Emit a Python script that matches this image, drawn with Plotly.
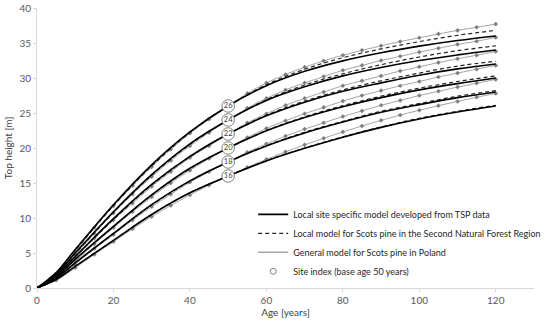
import plotly.graph_objects as go

# ---------------- data ----------------
site_index = [26, 24, 22, 20, 18, 16]
base_age = [50, 50, 50, 50, 50, 50]

ages_model = [0, 5, 10, 20, 30, 40, 50, 60, 70, 80, 90, 100, 110, 120]
ages_general = [0, 5, 10, 15, 20, 25, 30, 35, 40, 45, 50, 55, 60,
                65, 70, 75, 80, 85, 90, 95, 100, 105, 110, 115, 120]

# Local site specific model developed from TSP data (solid black)
tsp_26 = [0, 2.2, 5.5, 11.9, 17.6, 22.3, 26.0, 28.9, 30.95, 32.45, 33.6, 34.55, 35.35, 36.0]
tsp_24 = [0, 2.0, 5.0, 10.9, 16.2, 20.6, 24.0, 26.8, 28.75, 30.3, 31.5, 32.5, 33.3, 34.0]
tsp_22 = [0, 1.8, 4.5, 9.9, 14.8, 18.8, 22.0, 24.6, 26.55, 28.1, 29.3, 30.4, 31.3, 32.0]
tsp_20 = [0, 1.6, 4.1, 8.8, 13.3, 17.1, 20.0, 22.45, 24.35, 25.9, 27.2, 28.3, 29.2, 30.0]
tsp_18 = [0, 1.4, 3.6, 7.8, 11.9, 15.3, 18.0, 20.3, 22.15, 23.7, 25.1, 26.2, 27.2, 28.0]
tsp_16 = [0, 1.2, 3.1, 6.8, 10.5, 13.6, 16.0, 18.15, 19.95, 21.55, 22.95, 24.15, 25.15, 26.0]

# Local model for Scots pine in the Second Natural Forest Region (dashed)
loc_26 = [0, 2.2, 5.4, 11.75, 17.45, 22.2, 26.0, 29.05, 31.25, 32.9, 34.15, 35.2, 36.1, 36.8]
loc_24 = [0, 2.0, 4.9, 10.8, 16.1, 20.5, 24.0, 26.9, 29.0, 30.6, 31.9, 33.0, 33.9, 34.6]
loc_22 = [0, 1.8, 4.45, 9.8, 14.7, 18.75, 22.0, 24.7, 26.7, 28.3, 29.6, 30.7, 31.7, 32.4]
loc_20 = [0, 1.6, 4.05, 8.75, 13.25, 17.05, 20.0, 22.5, 24.45, 26.05, 27.4, 28.55, 29.5, 30.3]
loc_18 = [0, 1.4, 3.55, 7.75, 11.85, 15.25, 18.0, 20.35, 22.25, 23.8, 25.25, 26.35, 27.4, 28.2]
loc_16 = [0, 1.2, 3.1, 6.8, 10.5, 13.6, 16.0, 18.2, 20.0, 21.6, 23.0, 24.25, 25.25, 26.1]

# General model for Scots pine in Poland (grey with markers)
gen_26 = [0, 2.0, 5.2, 8.6, 11.7, 14.6, 17.3, 19.8, 22.1, 24.1, 26.0, 27.8, 29.3,
          30.5, 31.55, 32.45, 33.25, 33.95, 34.6, 35.2, 35.75, 36.3, 36.8, 37.25, 37.7]
gen_24 = [0, 1.8, 4.7, 7.8, 10.7, 13.4, 15.9, 18.2, 20.3, 22.2, 24.0, 25.7, 27.1,
          28.3, 29.3, 30.2, 31.1, 31.8, 32.5, 33.1, 33.7, 34.25, 34.8, 35.25, 35.8]
gen_22 = [0, 1.6, 4.3, 7.1, 9.7, 12.1, 14.5, 16.6, 18.6, 20.3, 22.0, 23.6, 24.9,
          26.1, 27.1, 28.0, 28.9, 29.6, 30.3, 31.0, 31.6, 32.2, 32.75, 33.25, 33.8]
gen_20 = [0, 1.5, 3.8, 6.3, 8.6, 10.9, 13.0, 15.0, 16.8, 18.5, 20.0, 21.5, 22.8,
          23.9, 24.9, 25.8, 26.7, 27.5, 28.2, 28.9, 29.5, 30.15, 30.7, 31.25, 31.8]
gen_18 = [0, 1.3, 3.4, 5.6, 7.6, 9.7, 11.6, 13.4, 15.1, 16.6, 18.0, 19.4, 20.6,
          21.7, 22.7, 23.6, 24.5, 25.3, 26.1, 26.8, 27.5, 28.1, 28.7, 29.25, 29.8]
gen_16 = [0, 1.1, 2.9, 4.8, 6.6, 8.45, 10.2, 11.8, 13.3, 14.7, 16.0, 17.25, 18.4,
          19.45, 20.45, 21.4, 22.3, 23.15, 23.95, 24.7, 25.4, 26.05, 26.65, 27.25, 27.8]

x_ticks = [0, 20, 40, 60, 80, 100, 120]
y_ticks = [0, 5, 10, 15, 20, 25, 30, 35, 40]

tsp = [tsp_26, tsp_24, tsp_22, tsp_20, tsp_18, tsp_16]
loc = [loc_26, loc_24, loc_22, loc_20, loc_18, loc_16]
gen = [gen_26, gen_24, gen_22, gen_20, gen_18, gen_16]

names = ["Local site specific model developed from TSP data",
         "Local model for Scots pine in the Second Natural Forest Region",
         "General model for Scots pine in Poland",
         "Site index (base age 50 years)"]

FONT = "Lato, 'Open Sans', sans-serif"
fig = go.Figure()

for ys in gen:
    fig.add_trace(go.Scatter(
        x=ages_general, y=ys, mode="lines+markers", line=dict(color="#A6A6A6", width=1, shape="spline"),
        marker=dict(symbol="diamond", size=3.5, color="#7F7F7F"),
        name=names[2], showlegend=False, hoverinfo="skip"))
for ys in loc:
    fig.add_trace(go.Scatter(
        x=ages_model, y=ys, mode="lines", line=dict(color="#262626", width=1.2, dash="4px,3px", shape="spline"),
        name=names[1], showlegend=False, hoverinfo="skip"))
for ys in tsp:
    fig.add_trace(go.Scatter(
        x=ages_model, y=ys, mode="lines", line=dict(color="#000000", width=1.6, shape="spline"),
        name=names[0], showlegend=False, hoverinfo="skip"))

fig.add_trace(go.Scatter(
    x=base_age, y=site_index, mode="markers+text", text=[str(s) for s in site_index],
    textposition="middle center", textfont=dict(size=7.5, color="#404040", family=FONT),
    marker=dict(symbol="circle", size=12.5, color="white", line=dict(color="#7F7F7F", width=1)),
    showlegend=False, hoverinfo="skip"))

# legend entries
fig.add_trace(go.Scatter(x=[None], y=[None], mode="lines", line=dict(color="#000000", width=1.8), name=names[0]))
fig.add_trace(go.Scatter(x=[None], y=[None], mode="lines", line=dict(color="#262626", width=1.2, dash="4px,3px"), name=names[1]))
fig.add_trace(go.Scatter(x=[None], y=[None], mode="lines", line=dict(color="#A6A6A6", width=1.5), name=names[2]))
fig.add_trace(go.Scatter(x=[None], y=[None], mode="markers",
                         marker=dict(symbol="circle", size=6, color="white", line=dict(color="#7F7F7F", width=1)),
                         name=names[3]))

fig.update_layout(
    width=550, height=324,
    margin=dict(l=37, r=16, t=8, b=36, autoexpand=False),
    paper_bgcolor="white", plot_bgcolor="white",
    font=dict(family=FONT, size=10, color="#595959"),
    showlegend=True,
    legend=dict(x=0.435, y=0.315, xanchor="left", yanchor="top", bgcolor="rgba(0,0,0,0)",
                font=dict(size=9, color="#262626", family=FONT), tracegroupgap=0,
                itemwidth=30),
    xaxis=dict(range=[0, 130], tickvals=x_ticks, showgrid=False, zeroline=False, automargin=False,
               showline=True, linecolor="#D9D9D9", linewidth=1, ticks="outside", ticklen=3,
               tickcolor="#D9D9D9", tickfont=dict(size=10, color="#595959"),
               title=dict(text="Age [years]", font=dict(size=10, color="#404040"), standoff=2)),
    yaxis=dict(range=[0, 40], tickvals=y_ticks, showgrid=False, zeroline=False, automargin=False,
               showline=True, linecolor="#D9D9D9", linewidth=1, ticks="outside", ticklen=3,
               tickcolor="#D9D9D9", tickfont=dict(size=10, color="#595959"),
               title=dict(text="Top height [m]", font=dict(size=10, color="#404040"), standoff=4)),
)

fig.write_html("out.html", config={"displayModeBar": False},
               post_script="document.body.style.margin='0';")
